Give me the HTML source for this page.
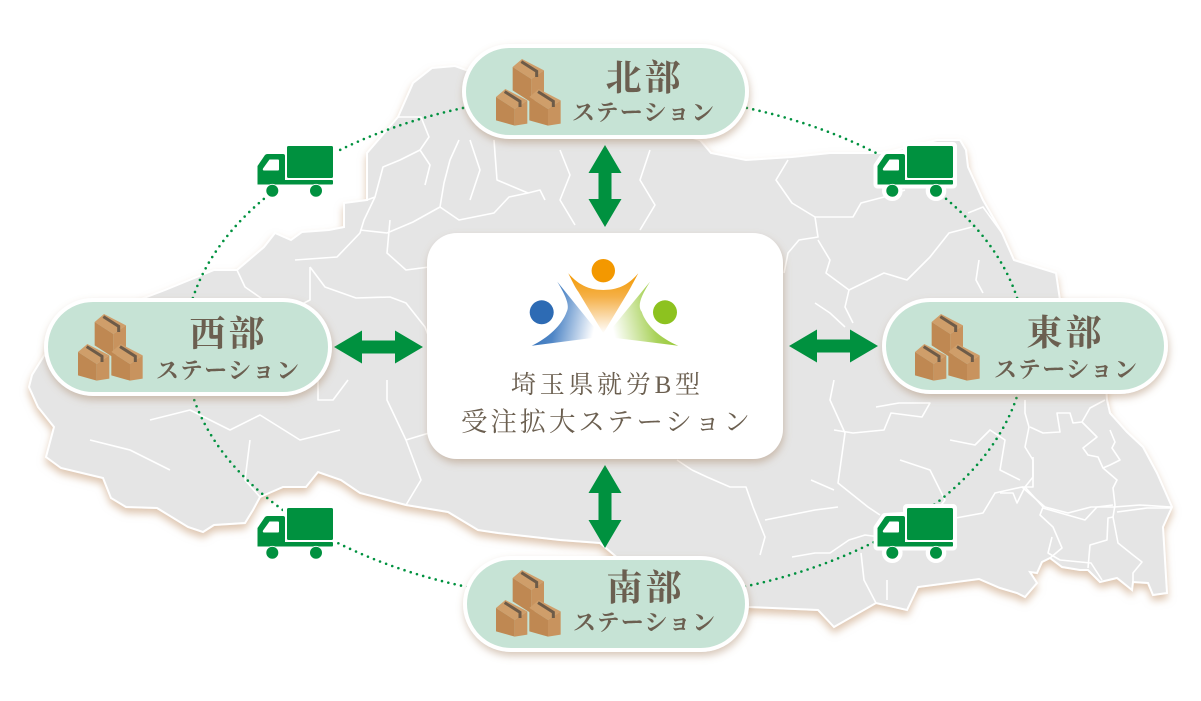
<!DOCTYPE html>
<html><head><meta charset="utf-8"><style>
html,body{margin:0;padding:0;background:#fff;}
svg{display:block;}
text{font-family:"Liberation Serif","Noto Serif CJK SC","Noto Serif CJK JP",serif;fill:#6b5f50;}
</style></head><body>
<svg width="1201" height="701" viewBox="0 0 1201 701" xmlns="http://www.w3.org/2000/svg">
<defs>
<filter id="mapsh" x="-5%" y="-5%" width="110%" height="115%"><feDropShadow dx="0" dy="5" stdDeviation="4" flood-color="#c9a27e" flood-opacity="0.6"/></filter>
<filter id="boxsh" x="-10%" y="-20%" width="120%" height="150%"><feDropShadow dx="1" dy="4" stdDeviation="4" flood-color="#a88465" flood-opacity="0.45"/></filter>
<clipPath id="mapclip"><path id="mp" d="M432,68 L455,66 L480,75 L700,140 L711,153 L746,160 L792,157 L830,153 L884,153 L937,140 L960,140 L966,150 L968,167 L983,200 L1002,233 L1014,260 L1056,273 L1060,300 L1100,300 L1107,400 L1110,413 L1127,432 L1143,447 L1157,473 L1172,507 L1163,527 L1167,593 L1153,595 L1148,583 L1133,582 L1132,590 L1117,578 L1100,582 L1088,570 L1080,570 L1062,567 L1050,558 L1042,562 L1037,573 L1030,572 L1037,583 L1025,597 L1017,593 L1000,588 L979,579 L918,587 L907,610 L876,603 L834,627 L818,610 L749,607 L700,580 L620,560 L600,543 L560,540 L498,533 L478,530 L448,512 L406,505 L360,493 L341,480 L318,472 L306,487 L283,487 L260,497 L253,510 L245,523 L214,525 L203,532 L188,527 L157,508 L126,507 L111,498 L103,478 L61,468 L46,457 L54,427 L38,407 L29,387 L32,375 L60,330 L165,290 L214,270 L237,270 L264,247 L275,233 L291,240 L302,232 L329,230 L344,227 L344,203 L367,200 L367,153 L398,117 L413,83 Z"/></clipPath>
<linearGradient id="gb" x1="0" y1="0" x2="1" y2="0.2"><stop offset="0" stop-color="#2d6bb4"/><stop offset="0.45" stop-color="#4f86c6"/><stop offset="1" stop-color="#ffffff"/></linearGradient>
<linearGradient id="go" x1="0" y1="0" x2="0" y2="1"><stop offset="0" stop-color="#f39800"/><stop offset="0.4" stop-color="#f5b14a"/><stop offset="1" stop-color="#ffffff"/></linearGradient>
<linearGradient id="gg" x1="1" y1="0" x2="0" y2="0.2"><stop offset="0" stop-color="#8dc21f"/><stop offset="0.45" stop-color="#a9d25a"/><stop offset="1" stop-color="#ffffff"/></linearGradient>
<g id="truckW" fill="#fff" stroke="#fff" stroke-width="8" stroke-linejoin="round">
<path d="M0.5,38.5 L0.5,20 L8,9 L26,8 L28,10 L28,34 L76,34 L76,38.5 Z"/>
<rect x="30" y="0" width="46" height="32"/>
<circle cx="15.3" cy="44.7" r="6.3"/><circle cx="59" cy="44.7" r="6.3"/>
</g>
<g id="truckG">
<path fill="#00913f" d="M0.5,38.5 L0.5,20 L8,9 Q9,8 10.5,8 L26,8 Q28,8 28,10 L28,38.5 Z"/>
<path fill="#fff" d="M6,22.5 L12.5,13.5 L21,13.5 Q22,13.5 22,14.5 L22,23.5 Q22,24.5 21,24.5 L7,24.5 Q5.3,24.5 6,22.5 Z"/>
<rect x="30" y="0" width="46" height="32" rx="1.5" fill="#00913f"/>
<rect x="0.5" y="34" width="75.5" height="4.5" rx="1" fill="#00913f"/>
<circle cx="15.3" cy="44.7" r="6.4" fill="#00913f" stroke="#fff" stroke-width="0.8"/>
<circle cx="59" cy="44.7" r="6.4" fill="#00913f" stroke="#fff" stroke-width="0.8"/>
</g>
<g id="cubes" transform="scale(0.3333)">
<polygon points="68,36 96,12 162,46 124,72" fill="#cf9e6a"/>
<polygon points="68,36 124,72 124,142 68,106" fill="#bf8852"/>
<polygon points="124,72 162,46 162,116 124,142" fill="#c8935e"/>
<polyline points="94,20 140,49 140,66" fill="none" stroke="#6d5b48" stroke-width="9"/>
<polygon points="18,126 46,102 112,136 74,162" fill="#cf9e6a"/>
<polygon points="18,126 74,162 74,212 18,196" fill="#bf8852"/>
<polygon points="74,162 112,136 112,206 74,212" fill="#c8935e"/>
<polyline points="44,110 90,139 90,156" fill="none" stroke="#6d5b48" stroke-width="9"/>
<polygon points="118,126 146,102 212,136 174,162" fill="#cf9e6a"/>
<polygon points="118,126 174,162 174,212 118,196" fill="#bf8852"/>
<polygon points="174,162 212,136 212,206 174,212" fill="#c8935e"/>
<polyline points="144,110 190,139 190,156" fill="none" stroke="#6d5b48" stroke-width="9"/>
</g>
</defs>

<!-- map -->
<use href="#mp" fill="#e5e5e5" stroke="#fff" stroke-width="2" filter="url(#mapsh)"/>
<g clip-path="url(#mapclip)" fill="none" stroke="#fff" stroke-width="1.6" stroke-linejoin="round">
<path d="M398,117 L421,117 L429,137 L420,150 L430,165 L425,185"/>
<path d="M367,200 L375,197 L383,167 L400,160 L420,150"/>
<path d="M360,230 L387,233 L413,222 L440,207 L459,220 L494,213 L509,197 L528,193"/>
<path d="M459,140 L450,160 L444,183 L440,207"/>
<path d="M494,140 L497,180 L528,193 L540,190 L545,200"/>
<path d="M295,260 L337,257 L360,233 L364,220 L375,197"/>
<path d="M310,267 L325,287 L356,298 L390,297 L406,303 L425,327 L430,340"/>
<path d="M237,270 L245,287 L268,303 L290,310 L310,300 L310,267"/>
<path d="M390,220 L387,253 L406,270 L429,267"/>
<path d="M387,380 L387,400 L406,440 L421,480 L406,505"/>
<path d="M406,440 L429,433"/>
<path d="M318,380 L318,400 L333,400 L348,380"/>
<path d="M788,160 L776,180 L792,203 L815,217 L853,217 L861,203 L884,197 L905,190"/>
<path d="M815,217 L818,237 L799,240 L788,253 L784,273"/>
<path d="M818,240 L830,260 L826,273 L849,290 L884,273 L907,280 L930,257 L949,233 L972,227"/>
<path d="M849,290 L845,307 L853,323"/>
<path d="M815,303 L830,313 L845,327"/>
<path d="M979,260 L976,280 L983,293"/>
<path d="M968,213 L983,207 L1002,233"/>
<path d="M834,380 L830,400 L845,433 L838,483 L868,507 L880,515"/>
<path d="M945,520 L983,513 L995,493 L1022,487 L1045,507 L1068,513 L1091,507 L1114,507 L1140,505 L1171,507"/>
<path d="M1025,400 L1025,413 L1029,427 L1025,447 L1033,460 L1033,487 L1022,487"/>
<path d="M1030,427 L1043,433 L1060,432 L1057,413 L1070,413 L1073,423 L1082,422 L1090,408 L1105,400"/>
<path d="M1082,422 L1097,437 L1083,448 L1088,455 L1098,457 L1103,468 L1117,480 L1113,488 L1115,505 L1113,517"/>
<path d="M1110,430 L1115,442 L1112,448 L1120,460 L1110,465 L1103,468"/>
<path d="M1117,512 L1147,508 L1172,508"/>
<path d="M1113,517 L1108,518 L1107,540 L1090,545 L1088,568"/>
<path d="M1113,517 L1118,543 L1133,555 L1142,562 L1133,573 L1133,582"/>
<path d="M1025,487 L1043,507 L1040,515 L1053,527 L1062,548 L1050,558"/>
<path d="M1043,508 L1057,512 L1085,520 L1097,507 L1113,505"/>
<path d="M1033,457 L1033,477 L1025,487 L1017,503 L1013,493 L1000,493"/>
<path d="M1052,537 L1048,553 L1060,560 L1091,563 L1102,580"/>
<path d="M887,580 L887,600"/>
<path d="M861,553 L864,580 L876,603"/>
<path d="M765,520 L815,510 L838,507"/>
<path d="M792,557 L815,553 L830,553 L849,540 L865,535 L880,537"/>
<path d="M692,470 L707,477 L730,487 L746,487 L753,507 L765,537 L760,555"/>
<path d="M677,460 L692,470"/>
<path d="M811,480 L834,490"/>
<path d="M876,407 L899,403 L930,403 L922,417 L891,413 L884,430 L853,433 L834,430"/>
<path d="M950,440 L975,445 L990,430 L1005,440 L1000,470 L1020,480"/>
<path d="M900,460 L930,470 L945,500 L930,520"/>
<path d="M470,140 L480,170 L470,200"/>
<path d="M560,150 L570,175 L560,200 L575,225"/>
<path d="M650,150 L640,180 L655,205 L640,230"/>
<path d="M150,420 L190,410 L230,430 L260,415 L300,440 L340,430"/>
<path d="M90,440 L130,450 L170,470"/>
<path d="M250,440 L245,480 L260,497"/>
</g>

<!-- dotted ellipse -->
<ellipse cx="605" cy="347" rx="420" ry="254" fill="none" stroke="#00913f" stroke-width="2.6" stroke-dasharray="0 6.5" stroke-linecap="round"/>

<!-- arrows -->
<g fill="#00913f">
<path d="M605,145 L621.5,173 L611.5,173 L611.5,199 L621.5,199 L605,227 L588.5,199 L598.5,199 L598.5,173 L588.5,173 Z"/>
<path d="M605,465 L621.5,493 L611.5,493 L611.5,520 L621.5,520 L605,548 L588.5,520 L598.5,520 L598.5,493 L588.5,493 Z"/>
<path d="M334,347 L362,330.5 L362,340.5 L395,340.5 L395,330.5 L423,347 L395,363.5 L395,353.5 L362,353.5 L362,363.5 Z"/>
<path d="M789,346 L817,329.5 L817,339.5 L850,339.5 L850,329.5 L878,346 L850,362.5 L850,352.5 L817,352.5 L817,362.5 Z"/>
</g>

<!-- center box -->
<rect x="427" y="233" width="356" height="226" rx="30" fill="#fff" filter="url(#boxsh)"/>
<path d="M557.3,281.7 C566,296 570,306 566.7,311.7 C562,325 548,338 531.7,345.7 L601.7,336.7 Z" fill="url(#gb)"/>
<path d="M568.3,273.3 C580,287 592,290 603.3,290 C615,290 627,287 638.3,273.3 C633,283 630,289 628.3,291.7 L603.3,333.3 L578.3,291.7 C576,289 573,283 568.3,273.3 Z" fill="url(#go)"/>
<path d="M650,281.7 C641,296 637,306 641.7,311.7 C646,325 660,338 678.3,345.7 L605,336.7 Z" fill="url(#gg)"/>
<circle cx="603.3" cy="270.7" r="11.7" fill="#f39800"/>
<circle cx="541.7" cy="312.3" r="12" fill="#2d6bb4"/>
<circle cx="665" cy="312.3" r="12" fill="#8dc21f"/>
<text x="511" y="393" font-size="25" textLength="189" lengthAdjust="spacing">埼玉県就労B型</text>
<text x="461" y="431" font-size="26.5" textLength="289" lengthAdjust="spacing">受注拡大ステーション</text>

<!-- station boxes -->
<g filter="url(#boxsh)">
<rect x="464" y="46" width="283" height="91" rx="45.5" fill="#c6e3d5" stroke="#fff" stroke-width="4"/>
<rect x="46" y="300" width="284" height="94" rx="47" fill="#c6e3d5" stroke="#fff" stroke-width="4"/>
<rect x="884" y="300" width="282" height="92" rx="46" fill="#c6e3d5" stroke="#fff" stroke-width="4"/>
<rect x="465" y="558" width="282" height="92" rx="46" fill="#c6e3d5" stroke="#fff" stroke-width="4"/>
</g>
<use href="#cubes" transform="translate(490,55)"/>
<use href="#cubes" transform="translate(72,310)"/>
<use href="#cubes" transform="translate(909,310)"/>
<use href="#cubes" transform="translate(490,566)"/>

<g font-weight="700">
<text x="605.5" y="90" font-size="36" textLength="75" lengthAdjust="spacing">北部</text>
<text x="189.5" y="346" font-size="36" textLength="75" lengthAdjust="spacing">西部</text>
<text x="1026.5" y="345" font-size="36" textLength="75" lengthAdjust="spacing">東部</text>
<text x="606.5" y="600" font-size="36" textLength="75" lengthAdjust="spacing">南部</text>
</g>
<g font-weight="700">
<text x="572" y="120" font-size="23" textLength="142" lengthAdjust="spacing">ステーション</text>
<text x="156" y="378" font-size="23" textLength="143" lengthAdjust="spacing">ステーション</text>
<text x="994" y="377" font-size="23" textLength="143" lengthAdjust="spacing">ステーション</text>
<text x="573" y="630" font-size="23" textLength="142" lengthAdjust="spacing">ステーション</text>
</g>

<!-- trucks -->
<use href="#truckW" transform="translate(257,146)"/>
<use href="#truckG" transform="translate(257,146)"/>
<use href="#truckW" transform="translate(877,146)"/>
<use href="#truckG" transform="translate(877,146)"/>
<use href="#truckW" transform="translate(257,508)"/>
<use href="#truckG" transform="translate(257,508)"/>
<use href="#truckW" transform="translate(877,508)"/>
<use href="#truckG" transform="translate(877,508)"/>
</svg>
</body></html>
